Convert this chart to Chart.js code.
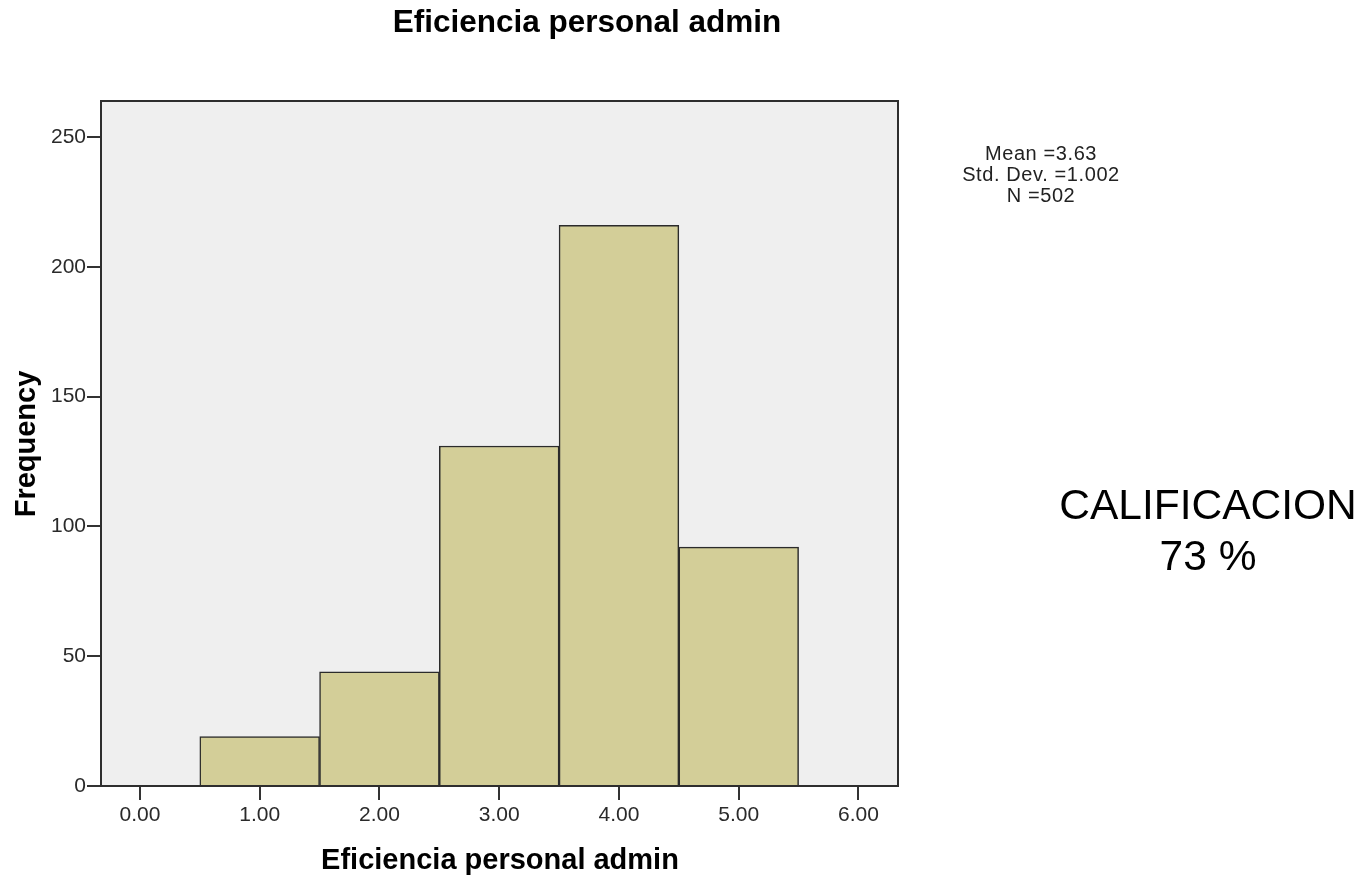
<!DOCTYPE html>
<html>
<head>
<meta charset="utf-8">
<script src="https://cdn.jsdelivr.net/npm/chart.js@4/dist/chart.umd.min.js"></script>
<style>
  html, body { margin: 0; padding: 0; background: #fff; }
  #wrap { width: 1370px; height: 879px; position: relative; }
</style>
</head>
<body>
<div id="wrap"><canvas id="histo"></canvas></div>
<script>
const binCenters = [1, 2, 3, 4, 5];
const frequencies = [19, 44, 131, 216, 92];
const xTicks = [0, 1, 2, 3, 4, 5, 6];
const yTicks = [0, 50, 100, 150, 200, 250];
const statLines = ["Mean =3.63", "Std. Dev. =1.002", "N =502"];
const noteLines = ["CALIFICACION", "73 %"];
const chartTitle = "Eficiencia personal admin";
const xTitle = "Eficiencia personal admin";
const yTitle = "Frequency";

const FONT = '"Liberation Sans", Arial, sans-serif';

// fond gris + cadre + textes
const decor = {
    id: 'decor',
    beforeDatasetsDraw(chart) {
        const { ctx, chartArea: a } = chart;
        ctx.save();
        ctx.fillStyle = '#efefef';
        ctx.fillRect(a.left, a.top, a.right - a.left, a.bottom - a.top);
        ctx.restore();
    },
    afterDraw(chart) {
        const { ctx, chartArea: a } = chart;
        ctx.save();
        ctx.strokeStyle = '#2e2e2e';
        ctx.lineWidth = 2;
        ctx.strokeRect(a.left, a.top, a.right - a.left, a.bottom - a.top);

        ctx.fillStyle = '#000';
        ctx.textAlign = 'center';
        ctx.textBaseline = 'middle';

        ctx.font = 'bold 31.5px ' + FONT;
        ctx.fillText(chartTitle, 587, 23);

        ctx.font = 'bold 29px ' + FONT;
        ctx.fillText(xTitle, 500, 861);

        ctx.save();
        ctx.translate(27, 444);
        ctx.rotate(-Math.PI / 2);
        ctx.fillText(yTitle, 0, 0);
        ctx.restore();

        ctx.fillStyle = '#222';
        ctx.font = '20px ' + FONT;
        ctx.letterSpacing = '0.6px';
        statLines.forEach((t, i) => ctx.fillText(t, 1041, 154 + i * 21));
        ctx.letterSpacing = '0px';

        ctx.fillStyle = '#000';
        ctx.font = '42.5px ' + FONT;
        noteLines.forEach((t, i) => ctx.fillText(t, 1208, 507 + i * 51));
        ctx.restore();
    }
};

new Chart(document.getElementById('histo'), {
    type: 'bar',
    data: {
        datasets: [{
            data: binCenters.map((x, i) => ({ x: x, y: frequencies[i] })),
            backgroundColor: '#d3ce98',
            borderColor: '#2b2b2b',
            borderWidth: 1.5,
            barPercentage: 1,
            categoryPercentage: 1
        }]
    },
    options: {
        responsive: true,
        maintainAspectRatio: false,
        animation: false,
        layout: { padding: { left: 0, top: 101, right: 472, bottom: 0 } },
        plugins: { legend: { display: false }, tooltip: { enabled: false } },
        scales: {
            x: {
                type: 'linear',
                min: -0.325,
                max: 6.33,
                offset: false,
                afterBuildTicks: s => { s.ticks = xTicks.map(v => ({ value: v })); },
                afterFit: s => { s.height = 93; },
                border: { display: false },
                grid: { offset: false, drawOnChartArea: false, drawTicks: true, tickLength: 14, tickColor: '#333', lineWidth: 2 },
                ticks: {
                    padding: 3,
                    color: '#2a2a2a',
                    font: { family: FONT, size: 21 },
                    maxRotation: 0,
                    callback: v => v.toFixed(2)
                }
            },
            y: {
                min: 0,
                max: 263.9,
                afterBuildTicks: s => { s.ticks = yTicks.map(v => ({ value: v })); },
                afterFit: s => { s.width = 101; },
                border: { display: false },
                grid: { drawOnChartArea: false, drawTicks: true, tickLength: 14, tickColor: '#333', lineWidth: 2 },
                ticks: {
                    padding: 1,
                    color: '#2a2a2a',
                    font: { family: FONT, size: 21 }
                }
            }
        }
    },
    plugins: [decor]
});
</script>
</body>
</html>
